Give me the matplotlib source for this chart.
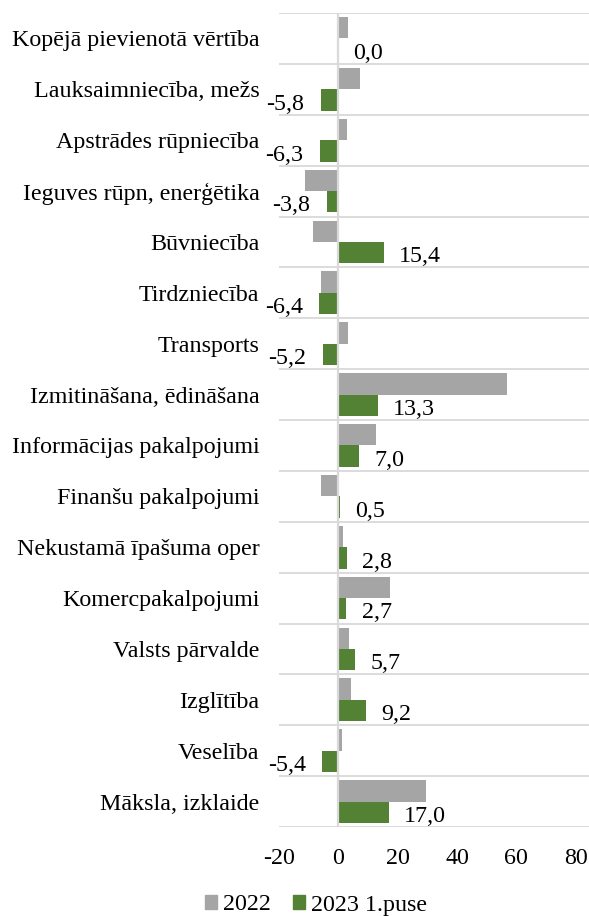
import numpy as np
import matplotlib
matplotlib.use("Agg")
import matplotlib.pyplot as plt
from matplotlib.patches import Patch

# Data
categories = [
    "Kopējā pievienotā vērtība",
    "Lauksaimniecība, mežs",
    "Apstrādes rūpniecība",
    "Ieguves rūpn, enerģētika",
    "Būvniecība",
    "Tirdzniecība",
    "Transports",
    "Izmitināšana, ēdināšana",
    "Informācijas pakalpojumi",
    "Finanšu pakalpojumi",
    "Nekustamā īpašuma oper",
    "Komercpakalpojumi",
    "Valsts pārvalde",
    "Izglītība",
    "Veselība",
    "Māksla, izklaide",
]
values_2022 = [3.2, 7.3, 2.8, -11.4, -8.7, -6.0, 3.1, 57.0,
               12.7, -5.9, 1.7, 17.4, 3.7, 4.2, 1.1, 29.4]
values_2023 = [0.0, -5.8, -6.3, -3.8, 15.4, -6.4, -5.2, 13.3,
               7.0, 0.5, 2.8, 2.7, 5.7, 9.2, -5.4, 17.0]
series_names = ["2022", "2023 1.puse"]
x_ticks = [-20, 0, 20, 40, 60, 80]

plt.rcParams["font.family"] = ["Liberation Serif", "DejaVu Serif"]
fs = 17.3
gray = "#A5A5A5"
green = "#548235"
grid_col = "#D9D9D9"

fig = plt.figure(figsize=(5.89, 9.16), dpi=100)
ax = fig.add_axes([279 / 589, 1 - 827 / 916, 1 - 279 / 589, (827 - 13) / 916])

n = len(categories)
y = np.arange(n)
h = 0.42
ax.barh(y - h / 2, values_2022, h, color=gray, zorder=2)
ax.barh(y + h / 2, values_2023, h, color=green, zorder=2)

# data labels for the green series
for yi, v in zip(y, values_2023):
    txt = f"{v:.1f}".replace(".", ",")
    if v < 0:
        ax.annotate(txt, (v, yi + h / 2), xytext=(-12, -3),
                    textcoords="offset points", ha="right", va="center",
                    fontsize=fs)
    else:
        ax.annotate(txt, (v, yi + h / 2), xytext=(11, -3),
                    textcoords="offset points", ha="left", va="center",
                    fontsize=fs)

# category separators and zero line
for b in np.arange(-0.5, n, 1.0):
    ax.axhline(b, color=grid_col, lw=1.3, zorder=1)
ax.axvline(0, color=grid_col, lw=1.6, zorder=3)

ax.set_xlim(-20, 84.5)
ax.set_ylim(n - 0.5, -0.5)
ax.set_xticks(x_ticks)
ax.set_xticklabels([str(t) for t in x_ticks], fontsize=fs)
ax.set_yticks(y)
ax.set_yticklabels(categories, fontsize=fs)
ax.tick_params(axis="both", length=0)
ax.tick_params(axis="y", pad=14)
ax.tick_params(axis="x", pad=15)
for s in ax.spines.values():
    s.set_visible(False)

handles = [Patch(color=gray), Patch(color=green)]
fig.legend(handles, series_names, loc="center", ncol=2,
           bbox_to_anchor=(316 / 589, 1 - 905 / 916), frameon=False,
           fontsize=fs, handlelength=0.5, handleheight=0.5,
           handletextpad=0.25, columnspacing=0.9, borderpad=0)

fig.savefig("out.png", dpi=100)
